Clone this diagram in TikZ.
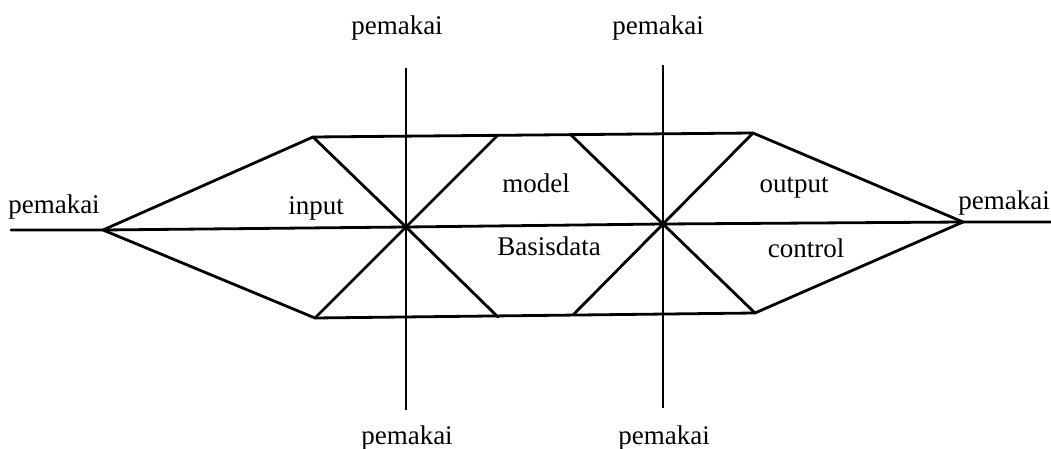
\documentclass[tikz,border=0pt]{standalone}
\usepackage{fontspec}
\setmainfont{Liberation Serif}
\begin{document}
\begin{tikzpicture}[x=1pt,y=-1pt,
  ln/.style={line width=2.8pt,line cap=round,line join=round},
  vl/.style={line width=2.3pt},
  lbl/.style={inner sep=0pt,font=\fontsize{27}{30}\selectfont}]
\useasboundingbox (0,0) rectangle (1051,449);
% points
\coordinate (Lend) at (11,230);
\coordinate (L) at (103,230);
\coordinate (C1) at (406,227);
\coordinate (C2) at (663,224);
\coordinate (R) at (963,222);
\coordinate (Rend) at (1055,222);
\coordinate (TL) at (313,137);
\coordinate (BL) at (315,318);
\coordinate (T1) at (498,135);
\coordinate (B1) at (498,317);
\coordinate (T2) at (570,134);
\coordinate (B2) at (573,315);
\coordinate (TR) at (753,133);
\coordinate (BR) at (755,313);
\coordinate (V1t) at (406,68);
\coordinate (V1b) at (406,410);
\coordinate (V2t) at (663,65);
\coordinate (V2b) at (663,408);
% lines
\draw[ln] (Lend) -- (L) -- (C1) -- (C2) -- (R) -- (Rend);
\draw[ln] (C1) -- (TL) -- (L) -- (BL) -- (C1);
\draw[ln] (TL) -- (TR);
\draw[ln] (BL) -- (BR);
\draw[ln] (C1) -- (B1);
\draw[ln] (C1) -- (T1);
\draw[ln] (C2) -- (T2);
\draw[ln] (C2) -- (B2);
\draw[ln] (C2) -- (TR) -- (R) -- (BR) -- (C2);
\draw[vl] (V1t) -- (V1b);
\draw[vl] (V2t) -- (V2b);
% labels
\node[lbl] (pl) at (54,207) {pemakai};
\node[lbl] (pr) at (1004,203) {pemakai};
\node[lbl] (pt1) at (397,28) {pemakai};
\node[lbl] (pt2) at (658,28) {pemakai};
\node[lbl] (pb1) at (407,438) {pemakai};
\node[lbl] (pb2) at (664,438) {pemakai};
\node[lbl] (in) at (316,208) {input};
\node[lbl] (mo) at (536,183) {model};
\node[lbl] (bd) at (549,246) {Basisdata};
\node[lbl] (out) at (794,188) {output};
\node[lbl] (ctl) at (806,248) {control};
\end{tikzpicture}
\end{document}
